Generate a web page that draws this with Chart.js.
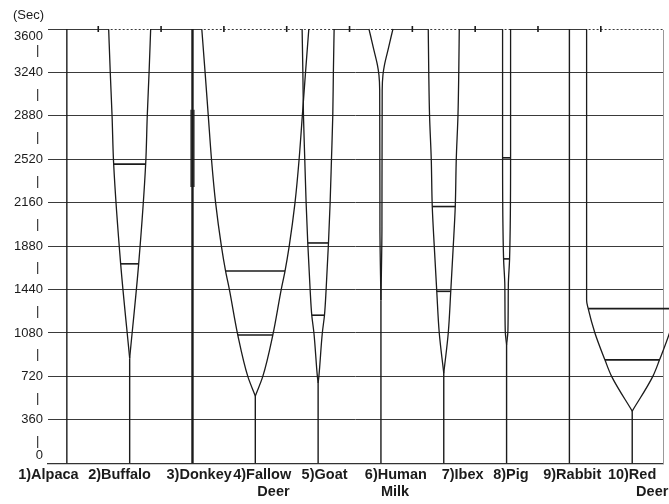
<!DOCTYPE html>
<html>
<head>
<meta charset="utf-8">
<script src="https://cdn.jsdelivr.net/npm/chart.js@4.4.1/dist/chart.umd.min.js"></script>
<style>
  html, body { margin: 0; padding: 0; background: #fff; }
  #wrap { width: 669px; height: 504px; }
</style>
</head>
<body>
<div id="wrap"><canvas id="coagChart"></canvas></div>
<script>
// milk samples along the x axis
const samples = [
    ['1)Alpaca'], ['2)Buffalo'], ['3)Donkey'], ['4)Fallow', '      Deer'], ['5)Goat'],
    ['6)Human', '    Milk'], ['7)Ibex'], ['8)Pig'], ['9)Rabbit'], ['10)Red', '       Deer']
];

// y axis, seconds
const yLabels = ['0', '360', '720', '1080', '1440', '1880', '2160', '2520', '2880', '3240', '3600'];
const yUnit = '(Sec)';

// clotting time, null = no clot in the test time
const clotTime = [null, 870, null, 558, 665, 1350, 747, 980, null, 432];

// curd firmness trace: time (s) and full width (mm)
const traceTime = [
    [],
    [870, 1653, 2480, 2880, 3240, 3600],
    [2290, 2930],
    [558, 720, 1063, 1440, 1593, 1800, 2160, 2520, 2880, 3240, 3600],
    [665, 720, 1080, 1227, 1440, 1826, 2160, 2520, 2880, 3240, 3600],
    [1350, 1960, 3094, 3219, 3301, 3441, 3548, 3600],
    [747, 1080, 1425, 1800, 2128, 2520, 2880, 3240, 3600],
    [980, 1100, 1475, 1694, 2532, 3600],
    [],
    [432, 720, 857, 1080, 1282, 1351, 3600]
];
const traceWidth = [
    [],
    [0, 9, 16, 17.6, 19.4, 21],
    [1.4, 1.4],
    [0, 7.5, 17.5, 25.9, 29.7, 33.9, 39.7, 43.8, 47, 50.2, 53.5],
    [0, 0.75, 4.2, 6.35, 8, 10.35, 12, 13.35, 14.65, 15.25, 16],
    [0, 1, 1.25, 2, 3.5, 7.5, 10.5, 12],
    [0, 4.5, 7, 9.5, 11.5, 12.5, 14.2, 15, 15.5],
    [0, 1.35, 1.75, 3, 4, 4],
    [],
    [0, 20.6, 27.3, 37.3, 44, 45.6, 45.6]
];

// horizontal marks across the trace
const markerTime = [[], [1653, 2480], [], [1063, 1593], [1227, 1826], [], [1425, 2128], [1694, 2532], [], [857, 1282]];

const yMax = 3600;
const MM_PER_SLOT = 31.4;
const ink = '#1b1b1b';
const fontFamily = '"Liberation Sans", Arial, sans-serif';

function lineSet(points, width, curved) {
    return {
        data: points,
        borderColor: ink,
        borderWidth: width,
        pointRadius: 0,
        pointHoverRadius: 0,
        fill: false,
        indexAxis: curved ? 'y' : 'x',
        cubicInterpolationMode: curved ? 'monotone' : 'default',
        tension: 0,
        clip: false,
        order: 1
    };
}

const datasets = [];
samples.forEach((name, i) => {
    const cx = i + 1;
    const stemTop = clotTime[i] ?? yMax;
    datasets.push(lineSet([{ x: cx, y: 0 }, { x: cx, y: stemTop }], i === 2 ? 2.4 : 1.4));

    const times = traceTime[i];
    if (!times.length) return;
    const widths = traceWidth[i];

    [-1, 1].forEach(side => {
        datasets.push(lineSet(times.map((t, k) => ({ x: cx + side * widths[k] / 2 / MM_PER_SLOT, y: t })), 1.3, true));
    });

    markerTime[i].forEach(t => {
        const w = widths[times.indexOf(t)] / 2 / MM_PER_SLOT;
        datasets.push(lineSet([{ x: cx - w, y: t }, { x: cx + w, y: t }], 1.6));
    });

    // open top of the trace shows dotted
    if (times[times.length - 1] === yMax) {
        const w = widths[widths.length - 1] / 2 / MM_PER_SLOT;
        datasets.push({
            ...lineSet([{ x: cx - w, y: yMax }, { x: cx + w, y: yMax }], 2),
            borderColor: '#fff',
            borderDash: [2, 2],
            order: 3
        });
    }
});

// small ticks between samples on the top line
datasets.push({
    data: samples.slice(1).map((_, i) => ({ x: i + 1.5, y: yMax })),
    showLine: false,
    pointStyle: 'line',
    rotation: 90,
    pointRadius: 3,
    pointHoverRadius: 3,
    borderColor: ink,
    borderWidth: 1.6,
    clip: false,
    order: 0
});

// left edge of each x label, in axis units
const labelStart = [0.225, 1.339, 2.587, 3.648, 4.737, 5.744, 6.966, 7.787, 8.583, 9.613];

const unitLabel = {
    id: 'unitLabel',
    afterDraw(chart) {
        const { ctx, chartArea, scales } = chart;
        ctx.save();
        ctx.font = '13px ' + fontFamily;
        ctx.fillStyle = ink;
        ctx.textAlign = 'right';
        ctx.textBaseline = 'middle';
        ctx.fillText(yUnit, scales.y.right - 4, chartArea.top - 14);
        ctx.restore();
    }
};

new Chart(document.getElementById('coagChart'), {
    type: 'line',
    data: { datasets },
    options: {
        responsive: true,
        maintainAspectRatio: false,
        animation: false,
        events: [],
        layout: { padding: { top: 29, right: 6, bottom: 0, left: 0 } },
        plugins: {
            legend: { display: false },
            tooltip: { enabled: false }
        },
        scales: {
            x: {
                type: 'linear',
                min: 0.7,
                max: 10.49,
                afterBuildTicks: (scale) => { scale.ticks = labelStart.map(v => ({ value: v })); },
                afterFit: (scale) => { scale.paddingLeft = 0; scale.paddingRight = 0; },
                ticks: {
                    autoSkip: false,
                    maxRotation: 0,
                    align: 'start',
                    padding: 3,
                    color: ink,
                    font: { family: fontFamily, size: 14.5, weight: 'bold' },
                    callback: (value, index) => samples[index]
                },
                grid: { display: true, drawOnChartArea: false, drawTicks: false },
                border: { display: true, color: '#333', width: 1.2 }
            },
            y: {
                type: 'linear',
                min: 0,
                max: yMax,
                afterFit: (scale) => { scale.width = 48; },
                ticks: {
                    stepSize: 180,
                    autoSkip: false,
                    padding: 5,
                    color: ink,
                    font: { family: fontFamily, size: 13 },
                    callback: (value) => {
                        if (value % 360) return '| ';
                        const label = yLabels[value / 360];
                        if (value === 0) return [label, ''];
                        if (value === yMax) return ['', label];
                        return label;
                    }
                },
                grid: {
                    color: (ctx) => ctx.tick.value % 360 === 0 ? '#3a3a3a' : 'transparent',
                    lineWidth: 1,
                    drawTicks: false
                },
                border: { display: false }
            },
            right: {
                type: 'linear',
                axis: 'y',
                position: 'right',
                min: 0,
                max: yMax,
                ticks: { display: false },
                grid: { drawOnChartArea: false, drawTicks: false },
                border: { display: true, color: '#999' }
            }
        }
    },
    plugins: [unitLabel]
});
</script>
</body>
</html>
